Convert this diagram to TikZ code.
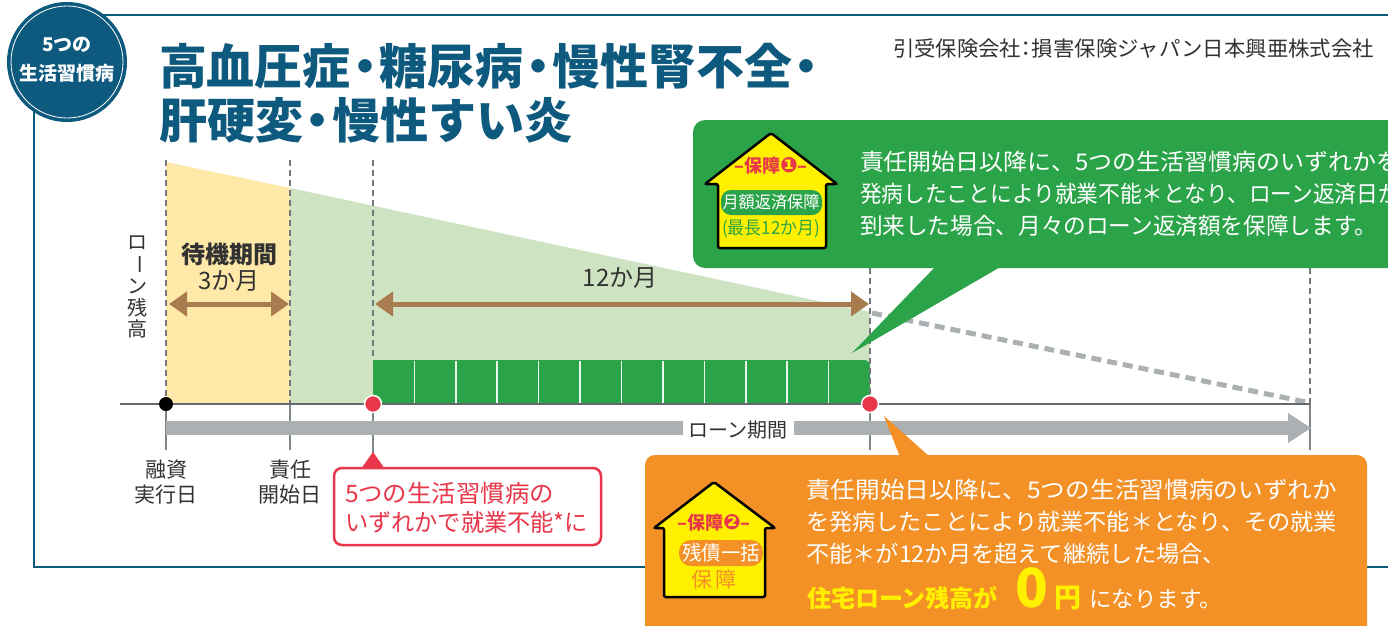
\documentclass[tikz,border=0pt]{standalone}
\usepackage{graphicx}
\usepackage{fontspec}
\setmainfont{Noto Sans CJK JP}
\newfontfamily\dejavu{DejaVu Sans}
\usetikzlibrary{arrows.meta}
\newcommand\fsz[1]{\fontsize{#1}{#1}\selectfont}
\newcommand\wbox[2]{\resizebox{#1}{\height}{#2}}
\newcommand\ndot{\hspace{-0.2em}・\hspace{-0.2em}}
\definecolor{teal}{RGB}{14,90,126}
\definecolor{dgreen}{RGB}{43,164,73}
\definecolor{lgreen}{RGB}{205,227,194}
\definecolor{lyellow}{RGB}{254,233,168}
\definecolor{brownc}{RGB}{169,124,80}
\definecolor{grayarrow}{RGB}{171,176,179}
\definecolor{axisc}{RGB}{100,104,108}
\definecolor{redc}{RGB}{232,54,74}
\definecolor{orangec}{RGB}{243,144,38}
\definecolor{yel}{RGB}{255,240,0}
\definecolor{txt}{RGB}{50,50,50}
\tikzset{
  vdash/.style={draw=axisc!90, line width=1.6pt, dash pattern=on 6pt off 4pt},
  vsolid/.style={draw=axisc!80, line width=1.2pt},
  brarrow/.style={draw=brownc, line width=5pt, {Triangle[length=18pt,width=24pt]}-{Triangle[length=18pt,width=24pt]}},
  lbl/.style={text=txt, font=\fsz{21}, align=center},
  wtext/.style={text=white, anchor=west, font=\fsz{23}},
  housec/.style={fill=yel, draw=black, line width=2.5pt, rounded corners=2pt},
}
\begin{document}
\begin{tikzpicture}[x=1pt,y=-1pt, every node/.style={inner sep=0pt, outer sep=0pt}]
\useasboundingbox (0,0) rectangle (1388,625);
\clip (0,0) rectangle (1388,625);
\fill[white] (0,0) rectangle (1388,625);

% frame
\draw[teal, line width=2pt] (60,15) -- (1388,15);
\draw[teal, line width=2pt] (34,100) -- (34,567) -- (645,567);
\draw[teal, line width=2pt] (1367,567) -- (1388,567);

% badge
\fill[teal] (67,62) circle (60);
\draw[white, line width=0.8pt] (67,62) circle (56);
\node[text=white, font=\bfseries\fsz{19}] (b1) at (67,45) {5つの};
\node[text=white, font=\bfseries\fsz{19}] (b2) at (67,73) {生活習慣病};

% title
\node[anchor=west, text=teal, font=\bfseries\fsz{48}] (t1) at (159,66) {\wbox{662pt}{高血圧症\ndot 糖尿病\ndot 慢性腎不全\ndot}};
\node[anchor=west, text=teal, font=\bfseries\fsz{48}] (t2) at (159,120) {\wbox{414pt}{肝硬変\ndot 慢性すい炎}};

\node[anchor=east, text=txt, font=\fsz{21}] (ins) at (1374,49) {\wbox{481pt}{引受保険会社\hspace{-0.25em}：\hspace{-0.25em}損害保険ジャパン日本興亜株式会社}};

% regions
\fill[lyellow] (166,162) -- (290,188) -- (290,404) -- (166,404) -- cycle;
\fill[lgreen] (290,188) -- (870,312) -- (870,404) -- (290,404) -- cycle;
\fill[dgreen] (373,360) -- (864,360) to[out=0,in=90] (870,366) -- (870,404) -- (373,404) -- cycle;
\foreach \i in {1,...,11} \draw[white!90!dgreen, line width=1.6pt] ({373+\i*497/12},361) -- ({373+\i*497/12},404);

% dashed slope
\draw[grayarrow, line width=5pt, dash pattern=on 10pt off 6pt] (872,313) -- (1306,402);

% vertical lines
\draw[vdash] (166,160) -- (166,404);
\draw[vdash] (290,160) -- (290,404);
\draw[vdash] (373,160) -- (373,360);
\draw[vdash] (870,268) -- (870,404);
\draw[vdash] (1310,268) -- (1310,404);
\draw[vsolid] (166,404) -- (166,450);
\draw[vsolid] (290,404) -- (290,450);
\draw[vsolid] (373,404) -- (373,458);
\draw[vsolid] (870,404) -- (870,450);
\draw[vsolid] (1310,404) -- (1310,450);

% axis
\draw[axisc, line width=2.5pt] (120,404) -- (1310,404);

% loan period arrow
\coordinate (lp0) at (166,428);
\coordinate (lp1) at (1290,428);
\draw[grayarrow, line width=14pt] (lp0) -- (lp1);
\fill[grayarrow] (1288,413) -- (1311,428) -- (1288,443) -- cycle;
\node[fill=white, inner xsep=6pt, inner ysep=2pt, text=txt, font=\fsz{20}] (lpl) at (738,430) {ローン期間};

% brown arrows
\coordinate (a1) at (169,304);
\coordinate (a2) at (289,304);
\coordinate (a3) at (375,304);
\coordinate (a4) at (869,304);
\draw[brarrow] (a1) -- (a2);
\draw[brarrow] (a3) -- (a4);
\node[text=txt, font=\bfseries\fsz{24}] (wt1) at (229,254) {待機期間};
\node[text=txt, font=\fsz{24}] (wt2) at (229,281) {3か月};
\node[text=txt, font=\fsz{24}] (m12) at (620,278) {12か月};

% vertical label
\node[text=txt, font=\fsz{20}] (v1) at (137,243) {ロ};
\node[text=txt, font=\fsz{20}, rotate=-90] (v2) at (137,264) {ー};
\node[text=txt, font=\fsz{20}] (v3) at (137,286) {ン};
\node[text=txt, font=\fsz{20}] (v4) at (137,308) {残};
\node[text=txt, font=\fsz{20}] (v5) at (137,329) {高};

% dots
\fill[black] (166,404) circle (7);
\filldraw[fill=redc, draw=white, line width=1.5pt] (373,404) circle (8.5);
\filldraw[fill=redc, draw=white, line width=1.5pt] (870,404) circle (8.5);

% bottom labels
\node[lbl] (l1a) at (166,470) {融資};
\node[lbl] (l1b) at (166,495) {実行日};
\node[lbl] (l2a) at (290,470) {責任};
\node[lbl] (l2b) at (290,495) {開始日};

% red box
\fill[redc] (361,469) -- (373,452) -- (385,469) -- cycle;
\draw[redc, fill=white, line width=2.5pt, rounded corners=8pt] (334,468) rectangle (601,545);
\node[anchor=west, text=redc, font=\fsz{24}] (r1) at (345,493) {\wbox{209pt}{5つの生活習慣病の}};
\node[anchor=west, text=redc, font=\fsz{24}] (r2) at (345,522) {\wbox{243pt}{いずれかで就業不能*に}};

% green callout
\fill[dgreen, rounded corners=12pt] (693,120) rectangle (1420,268);
\fill[dgreen] (936,266) -- (852,353) -- (1002,266) -- cycle;
\filldraw[housec] (771,133) -- (837,184) -- (826,184) -- (826,248) -- (718,248) -- (718,184) -- (705,184) -- cycle;
\node[text=redc, font=\bfseries\fsz{18}] (g1) at (771,166) {–保障{\dejavu\fsz{21}❶}–};
\fill[dgreen, rounded corners=10pt] (721,190) rectangle (822,215);
\node[text=white, font=\fsz{17}] (g2) at (771,202.5) {\wbox{97pt}{月額返済保障}};
\node[text=dgreen, font=\fsz{18}] (g3) at (771,229) {\wbox{98pt}{(最長12か月)}};
\node[wtext] (gt1) at (860,162) {\wbox{540pt}{責任開始日以降に、5つの生活習慣病のいずれかを}};
\node[wtext] (gt2) at (860,194) {\wbox{540pt}{発病したことにより就業不能＊となり、ローン返済日が}};
\node[wtext] (gt3) at (860,226) {\wbox{517pt}{到来した場合、月々のローン返済額を保障します。}};

% orange callout
\fill[orangec] (900,457) -- (884,416) -- (930,457) -- cycle;
\fill[orangec, rounded corners=10pt] (645,455) rectangle (1367,660);
\filldraw[housec] (714,482) -- (775,528) -- (765,528) -- (765,597) -- (664,597) -- (664,528) -- (654,528) -- cycle;
\node[text=redc, font=\bfseries\fsz{18}] (o1) at (714,523) {–保障{\dejavu\fsz{21}❷}–};
\fill[orangec, rounded corners=12pt] (679,540) rectangle (763,566);
\node[text=white, font=\fsz{20}] (o2) at (721,553) {\wbox{78pt}{残債一括}};
\node[text=orangec, font=\fsz{21}] (o3) at (714,580) {保\,障};
\node[wtext] (ot1) at (806,490) {\wbox{531pt}{責任開始日以降に、5つの生活習慣病のいずれか}};
\node[wtext] (ot2) at (806,522) {\wbox{531pt}{を発病したことにより就業不能＊となり、その就業}};
\node[wtext] (ot3) at (806,554) {\wbox{420pt}{不能＊が12か月を超えて継続した場合、}};
\node[anchor=base west, text=yel, font=\bfseries\fsz{24}] (ot4a) at (807,607) {住宅ローン残高が};
\node[anchor=base west, text=yel, font=\bfseries\fsz{54}, text height=37pt, text depth=0pt] (ot4b) at (1015,607) {0};
\node[anchor=base west, text=yel, font=\bfseries\fsz{27}] (ot4c) at (1054,607) {円};
\node[anchor=base west, text=white, font=\fsz{22.5}] (ot4d) at (1089,607) {になります。};
\end{tikzpicture}
\end{document}
